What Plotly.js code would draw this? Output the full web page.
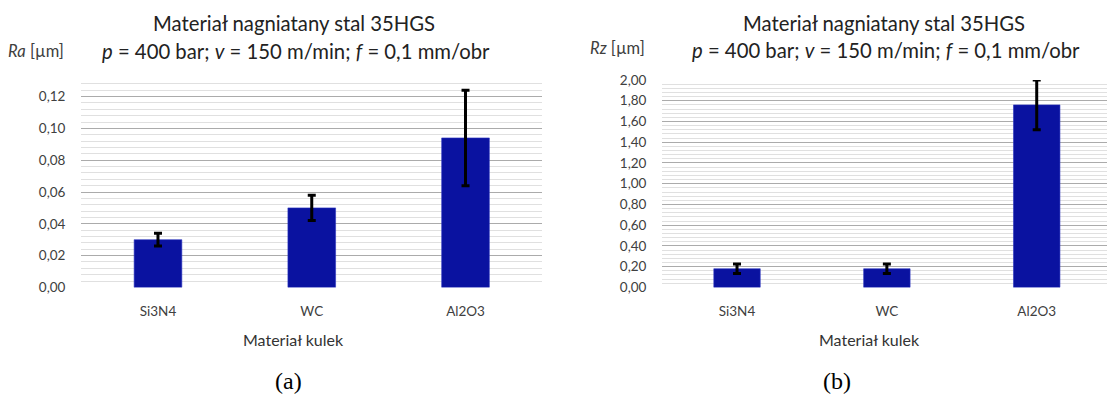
<!DOCTYPE html>
<html>
<head>
<meta charset="utf-8">
<script src="https://cdn.plot.ly/plotly-3.0.1.min.js"></script>
<style>
  html, body { margin: 0; padding: 0; background: #ffffff; }
  #chart { width: 1107px; height: 397px; }
</style>
</head>
<body>
<div id="chart"></div>
<script>
// ---- data ----
const categories = ['Si3N4', 'WC', 'Al2O3'];
const raValues = [0.030, 0.050, 0.094];
const raErrors = [0.004, 0.008, 0.030];
const rzValues = [0.18, 0.18, 1.76];
const rzErrors = [0.045, 0.045, 0.24];
const titleLine1 = 'Materiał nagniatany stal 35HGS';
const titleLine2 = '<i>p</i> = 400 bar; <i>v</i> = 150 m/min; <i>f</i> = 0,1 mm/obr';
const xAxisTitle = 'Materiał kulek';
const raLabel = '<i>Ra</i> [µm]';
const rzLabel = '<i>Rz</i> [µm]';
const panelLabels = ['(a)', '(b)'];

// ---- layout helpers ----
const W = 1107, H = 397;
const px = v => v / W;
const py = v => 1 - v / H;
const FONT = 'Lato, "Open Sans", sans-serif';
const barColor = '#0a12a0';
const majorGrid = '#ababab';
const minorGrid = '#e0e0e0';

function barTrace(vals, errs, xa, ya) {
  return {
    type: 'bar', x: categories, y: vals, xaxis: xa, yaxis: ya,
    width: 0.31,
    marker: { color: barColor, line: { color: '#2a34c0', width: 0.6 } },
    error_y: { type: 'data', array: errs, visible: true, color: '#000000', thickness: 3, width: 4 },
    hoverinfo: 'skip', showlegend: false
  };
}

const data = [
  barTrace(raValues, raErrors, 'x', 'y'),
  barTrace(rzValues, rzErrors, 'x2', 'y2')
];

const yBottom = py(287.4);
const xCommon = {
  type: 'category', showgrid: false, zeroline: false, showline: false,
  ticks: 'outside', ticklen: 11, tickcolor: 'rgba(0,0,0,0)',
  tickfont: { family: FONT, size: 13.5, color: '#404040' }, fixedrange: true
};
const yCommon = {
  showline: false, zeroline: false, showgrid: true, gridcolor: majorGrid, gridwidth: 1,
  ticks: 'outside', ticklen: 12, tickcolor: 'rgba(0,0,0,0)',
  tickformat: '.2f', tickfont: { family: FONT, size: 13.5, color: '#404040' }, fixedrange: true
};

function ann(text, x, y, size, opts) {
  return Object.assign({
    text: text, xref: 'paper', yref: 'paper', x: px(x), y: py(y),
    xanchor: 'center', yanchor: 'middle', showarrow: false,
    font: { family: FONT, size: size, color: '#222222' }
  }, opts || {});
}

const serif = '"Liberation Serif", "Times New Roman", serif';
const layout = {
  width: W, height: H,
  margin: { l: 0, r: 0, t: 0, b: 0 },
  paper_bgcolor: '#ffffff', plot_bgcolor: 'rgba(0,0,0,0)',
  separators: ', ',
  showlegend: false,
  xaxis: Object.assign({}, xCommon, { domain: [px(81.1), px(542.4)], anchor: 'y', range: [-0.5, 2.5] }),
  yaxis: Object.assign({}, yCommon, {
    domain: [yBottom, py(287.4 - 0.13 * 1590)], anchor: 'x', range: [0, 0.13],
    dtick: 0.02, tick0: 0,
    minor: { dtick: 0.004, tick0: 0, showgrid: true, gridcolor: minorGrid, gridwidth: 1 }
  }),
  xaxis2: Object.assign({}, xCommon, { domain: [px(662.1), 1], anchor: 'y2', range: [-0.5, 2.469] }),
  yaxis2: Object.assign({}, yCommon, {
    domain: [yBottom, py(80)], anchor: 'x2', range: [0, 2.0],
    dtick: 0.2, tick0: 0,
    minor: { dtick: 0.04, tick0: 0, showgrid: true, gridcolor: minorGrid, gridwidth: 1 }
  }),
  annotations: [
    ann(titleLine1, 294, 22.5, 20.3),
    ann(titleLine2, 296, 51, 20.3),
    ann(titleLine1, 884, 22.5, 20.3),
    ann(titleLine2, 886, 50, 20.3),
    ann(raLabel, 66, 50.7, 16.5, { xanchor: 'right', font: { family: FONT, size: 16.5, color: '#404040' } }),
    ann(rzLabel, 647, 48, 16.5, { xanchor: 'right', font: { family: FONT, size: 16.5, color: '#404040' } }),
    ann(xAxisTitle, 293, 339.5, 16, { font: { family: FONT, size: 16, color: '#333333' } }),
    ann(xAxisTitle, 869.6, 339.5, 16, { font: { family: FONT, size: 16, color: '#333333' } }),
    ann(panelLabels[0], 288, 381, 24, { font: { family: serif, size: 24, color: '#000000' } }),
    ann(panelLabels[1], 836.5, 381, 24, { font: { family: serif, size: 24, color: '#000000' } })
  ]
};

Plotly.newPlot('chart', data, layout, { staticPlot: true, displayModeBar: false });
</script>
</body>
</html>
